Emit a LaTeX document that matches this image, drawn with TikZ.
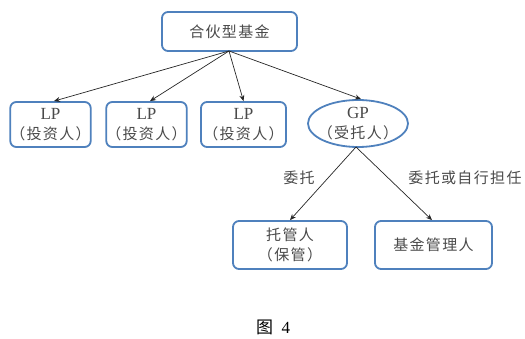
\documentclass[tikz,border=0pt]{standalone}
\usepackage{fontspec}
\setmainfont{Liberation Serif}
\newfontfamily\cjk[LetterSpace=9]{Noto Sans CJK SC}
\newfontfamily\cjkn{Noto Sans CJK SC}
\usetikzlibrary{arrows.meta,shapes.geometric}
\definecolor{boxblue}{HTML}{4F81BD}
\definecolor{txt}{HTML}{4A4A4A}
\newcommand{\lat}[1]{{\fontsize{17}{20}\selectfont #1}}
\begin{document}
\begin{tikzpicture}[x=1pt,y=-1pt,
  box/.style={draw=boxblue,line width=1.8pt,rounded corners=6pt,fill=white,text=txt,
    inner sep=0pt,align=center,font=\fontsize{15}{20}\selectfont},
  oval/.style={draw=boxblue,line width=1.8pt,ellipse,fill=white,text=txt,
    inner xsep=-7pt,inner ysep=-4pt,align=center,font=\fontsize{15}{20}\selectfont},
  conn/.style={draw=black!85,line width=0.7pt,-{Stealth[length=6pt,width=5pt]}},
  lbl/.style={text=txt,font=\fontsize{15}{18}\selectfont\cjk}]
\useasboundingbox (0,0) rectangle (525,339);
\node[box,minimum width=135pt,minimum height=39pt] (top) at (229.5,31.5) {\cjk 合伙型基金};
\node[box,minimum width=79pt,minimum height=45pt] (lp1) at (50.5,124.5) {\lat{LP}\\\cjk （投资人）};
\node[box,minimum width=79pt,minimum height=45pt] (lp2) at (146.5,124.5) {\lat{LP}\\\cjk （投资人）};
\node[box,minimum width=85pt,minimum height=45pt] (lp3) at (243.5,124.5) {\lat{LP}\\\cjk （投资人）};
\node[oval,minimum width=100pt,minimum height=47pt] (gp) at (358,123.5) {\lat{GP}\\\cjk （受托人）};
\node[box,minimum width=114pt,minimum height=48pt] (tg) at (290,245) {\cjk 托管人\\\cjk （保管）};
\node[box,minimum width=117pt,minimum height=48pt] (gl) at (433.5,245) {\cjk 基金管理人};
\coordinate (tb) at (229,51);
\draw[conn] (tb) -- (lp1.north -| 54,0);
\draw[conn] (tb) -- (lp2.north -| 150,0);
\draw[conn] (tb) -- (lp3.north);
\draw[conn] (tb) -- (gp.north -| 361,0);
\coordinate (gb) at (356,147);
\draw[conn] (gb) -- (tg.north);
\draw[conn] (gb) -- (gl.north -| 432,0);
\node[lbl] (l1) at (299,178) {委托};
\node[lbl] (l2) at (465,178) {委托或自行担任};
\node[text=black,font=\fontsize{17}{18}\selectfont] (cap) at (273,327) {{\cjkn 图}\ \ 4};
\end{tikzpicture}
\end{document}
